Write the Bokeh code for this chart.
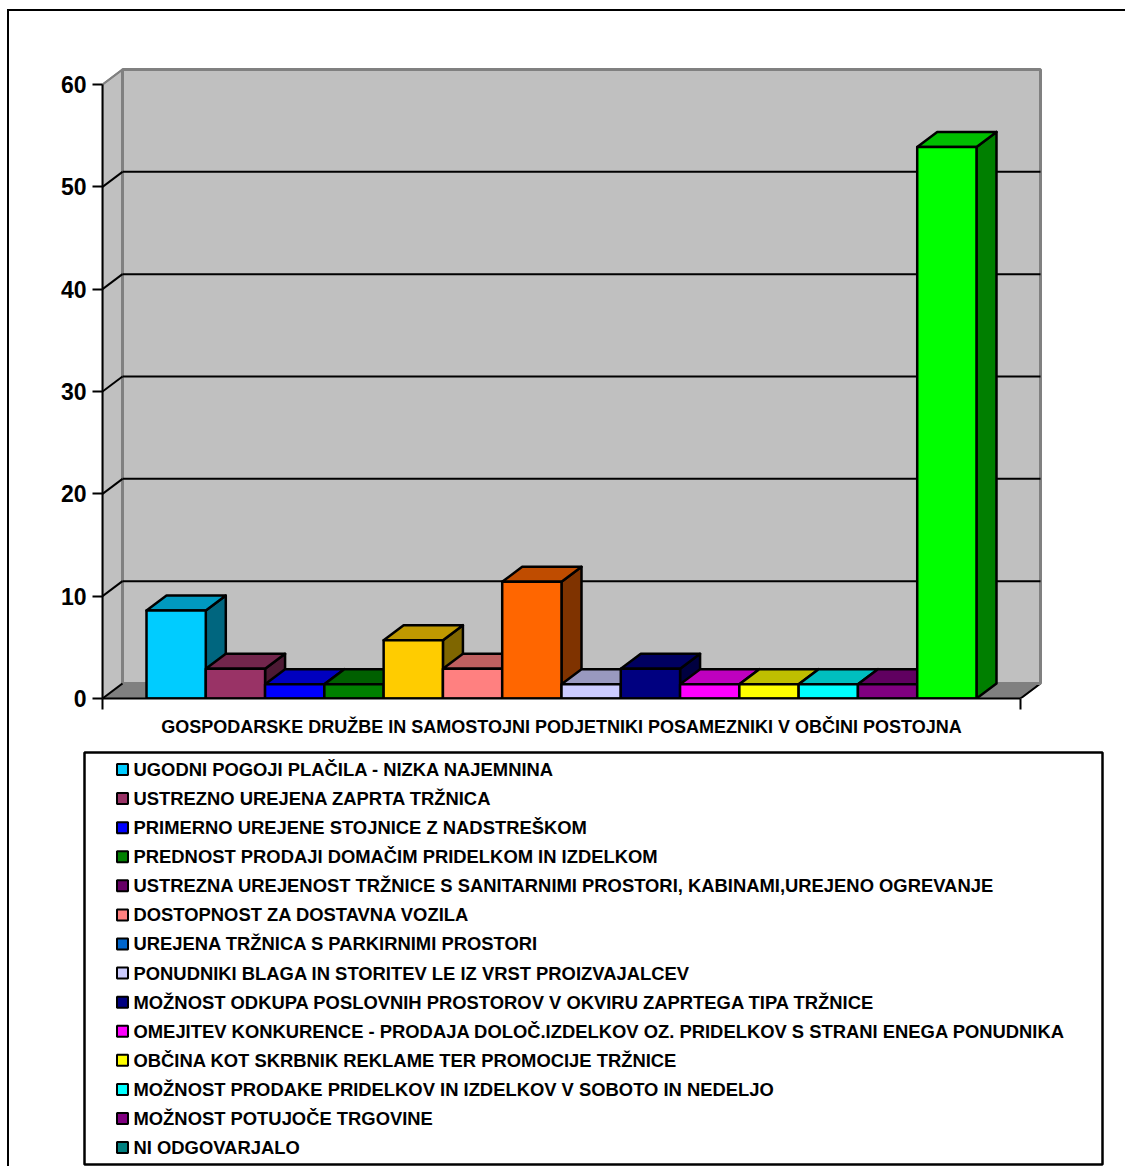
from bokeh.plotting import figure
from bokeh.models import Range1d, FixedTicker, ColumnDataSource, LinearAxis, CustomJSTickFormatter
from bokeh.embed import file_html
from bokeh.resources import INLINE
from bokeh.core.properties import value

# ---------------- data ----------------
categories = [
    "UGODNI POGOJI PLAČILA - NIZKA NAJEMNINA",
    "USTREZNO UREJENA ZAPRTA TRŽNICA",
    "PRIMERNO UREJENE STOJNICE Z NADSTREŠKOM",
    "PREDNOST PRODAJI DOMAČIM PRIDELKOM IN IZDELKOM",
    "USTREZNA UREJENOST TRŽNICE S SANITARNIMI PROSTORI, KABINAMI,UREJENO OGREVANJE",
    "DOSTOPNOST ZA DOSTAVNA VOZILA",
    "UREJENA TRŽNICA S PARKIRNIMI PROSTORI",
    "PONUDNIKI BLAGA IN STORITEV LE IZ VRST PROIZVAJALCEV",
    "MOŽNOST ODKUPA POSLOVNIH PROSTOROV V OKVIRU ZAPRTEGA TIPA TRŽNICE",
    "OMEJITEV KONKURENCE - PRODAJA DOLOČ.IZDELKOV OZ. PRIDELKOV S STRANI  ENEGA PONUDNIKA",
    "OBČINA KOT SKRBNIK REKLAME TER PROMOCIJE TRŽNICE",
    "MOŽNOST PRODAKE PRIDELKOV IN IZDELKOV V SOBOTO IN NEDELJO",
    "MOŽNOST POTUJOČE TRGOVINE",
    "NI ODGOVARJALO",
]
values = [8.6, 2.9, 1.4, 1.4, 5.7, 2.9, 11.4, 1.4, 2.9, 1.4, 1.4, 1.4, 1.4, 53.9]
bar_colors = ["#00CCFF", "#993366", "#0000FF", "#008000", "#FFCC00", "#FF8080", "#FF6600",
              "#CCCCFF", "#000080", "#FF00FF", "#FFFF00", "#00FFFF", "#800080", "#00FF00"]
legend_colors = ["#00CCFF", "#993366", "#0000FF", "#008000", "#660066", "#FF8080", "#0066CC",
                 "#CCCCFF", "#000080", "#FF00FF", "#FFFF00", "#00FFFF", "#800080", "#008080"]
y_ticks = [0, 10, 20, 30, 40, 50, 60]
x_title = "GOSPODARSKE DRUŽBE IN SAMOSTOJNI PODJETNIKI POSAMEZNIKI V OBČINI POSTOJNA"

FONT = "Liberation Sans"

# ---------------- geometry ----------------
W = 1118
H1 = 701
H2 = 456
FL, FT, FW, FH = 93, 53, 942, 634   # frame left/top/width/height inside top canvas
PX_Y = 614.0 / 60.0          # px per value unit
PX_X = 830.0 / 14.0          # px per bar
GAP = 44.0 / PX_X            # gap between axis and first bar (bar units)
DX = 20.0 / PX_X             # 3D depth offset (x)
DY = 15.0 / PX_Y             # 3D depth offset (y)
n = len(values)
x_lo = -GAP
x_hi = n + GAP
ymax = max(y_ticks)


def shade(h, f):
    h = h.lstrip("#")
    r, g, b = (int(h[i:i + 2], 16) for i in (0, 2, 4))
    return "#%02x%02x%02x" % (int(r * f), int(g * f), int(b * f))


p = figure(width=W, height=H1, output_backend="svg", toolbar_location=None,
           x_range=Range1d(x_lo, x_lo + FW / PX_X), y_range=Range1d(0, FH / PX_Y),
           x_axis_type=None, y_axis_type=None,
           min_border_left=FL, min_border_right=W - FL - FW, min_border_top=FT,
           min_border_bottom=H1 - FT - FH)
p.outline_line_color = None
p.background_fill_color = "white"
p.border_fill_color = "white"
p.styles = {"margin-left": "7px", "margin-top": "9px",
            "border-left": "2px solid black", "border-top": "2px solid black"}

# floor
p.patch([x_lo, x_hi, x_hi + DX, x_lo + DX], [0, 0, DY, DY],
        fill_color="#808080", line_color="#606060", line_width=1.5)
p.line([x_hi, x_hi + DX], [0, DY], line_color="black", line_width=2)
# left wall
p.patch([x_lo, x_lo, x_lo + DX, x_lo + DX], [0, ymax, ymax + DY, DY],
        fill_color="#C0C0C0", line_color="#808080", line_width=2)
# back wall
p.quad(left=[x_lo + DX], right=[x_hi + DX], bottom=[DY], top=[ymax + DY],
       fill_color="#C0C0C0", line_color="#808080", line_width=3)
# gridlines on back wall + diagonals on side wall
gv = [v for v in y_ticks if 0 < v < ymax]
p.segment(x0=[x_lo + DX] * len(gv), x1=[x_hi + DX] * len(gv),
          y0=[v + DY for v in gv], y1=[v + DY for v in gv], line_color="black", line_width=2)
dv = [v for v in y_ticks if v < ymax]
p.segment(x0=[x_lo] * len(dv), x1=[x_lo + DX] * len(dv),
          y0=dv, y1=[v + DY for v in dv], line_color="black", line_width=2)
p.segment(x0=[x_lo], x1=[x_lo + DX], y0=[ymax], y1=[ymax + DY], line_color="#808080", line_width=2)

# 3D bars: sides, then tops, then fronts (painter's order)
side_xs, side_ys, top_xs, top_ys = [], [], [], []
for i, v in enumerate(values):
    side_xs.append([i + 1, i + 1, i + 1 + DX, i + 1 + DX])
    side_ys.append([0, v, v + DY, DY])
    top_xs.append([i, i + 1, i + 1 + DX, i + DX])
    top_ys.append([v, v, v + DY, v + DY])
p.patches(side_xs, side_ys, fill_color=[shade(c, 0.5) for c in bar_colors],
          line_color="black", line_width=2.5, line_join="round")
p.patches(top_xs, top_ys, fill_color=[shade(c, 0.75) for c in bar_colors],
          line_color="black", line_width=2.5, line_join="round")
src = ColumnDataSource(dict(left=list(range(n)), right=[i + 1 for i in range(n)],
                            top=values, bottom=[0] * n, color=bar_colors))
p.quad(left="left", right="right", top="top", bottom="bottom", source=src,
       fill_color="color", line_color="black", line_width=2.5, line_join="round")

# axes
ya = LinearAxis(ticker=FixedTicker(ticks=y_ticks), bounds=(0, ymax))
ya.axis_line_width = 2
ya.major_tick_line_width = 2
ya.major_tick_out = 10
ya.major_tick_in = 0
ya.minor_tick_line_color = None
ya.major_label_standoff = 6
ya.major_label_text_font = FONT
ya.major_label_text_font_style = "bold"
ya.major_label_text_font_size = "23px"
ya.major_label_text_color = "black"
p.add_layout(ya, "left")

xa = LinearAxis(ticker=FixedTicker(ticks=[x_lo, x_hi]), bounds=(x_lo, x_hi),
                formatter=CustomJSTickFormatter(code="return ''"))
xa.axis_line_width = 2
xa.major_tick_line_width = 2
xa.major_tick_out = 11
xa.major_tick_in = 0
xa.major_label_standoff = 0
xa.minor_tick_line_color = None
p.add_layout(xa, "below")

# ---------------- category title + legend panel ----------------
pl = figure(width=W, height=H2, output_backend="svg", toolbar_location=None,
            x_range=Range1d(0, W), y_range=Range1d(H2, 0),
            x_axis_type=None, y_axis_type=None, min_border=0)
pl.outline_line_color = None
pl.grid.visible = False
pl.styles = {"margin-left": "7px", "border-left": "2px solid black"}

pl.text(x=[552], y=[16], text=[x_title], text_align="center", text_baseline="middle",
        text_font=value(FONT), text_font_style="bold", text_font_size="18px", text_color="black")

pl.quad(left=[75], right=[1093], top=[42], bottom=[454], fill_color=None,
        line_color="black", line_width=2.5)
rows = [59 + 29.08 * i for i in range(len(categories))]
pl.rect(x=[113] * len(rows), y=rows, width=11, height=11, fill_color=legend_colors,
        line_color="black", line_width=2)
pl.text(x=[124] * len(rows), y=rows, text=categories, text_baseline="middle",
        text_align="left", text_font=value(FONT), text_font_style="bold",
        text_font_size="18.4px", text_color="black")

open("out.html", "w").write(file_html([p, pl], INLINE))
